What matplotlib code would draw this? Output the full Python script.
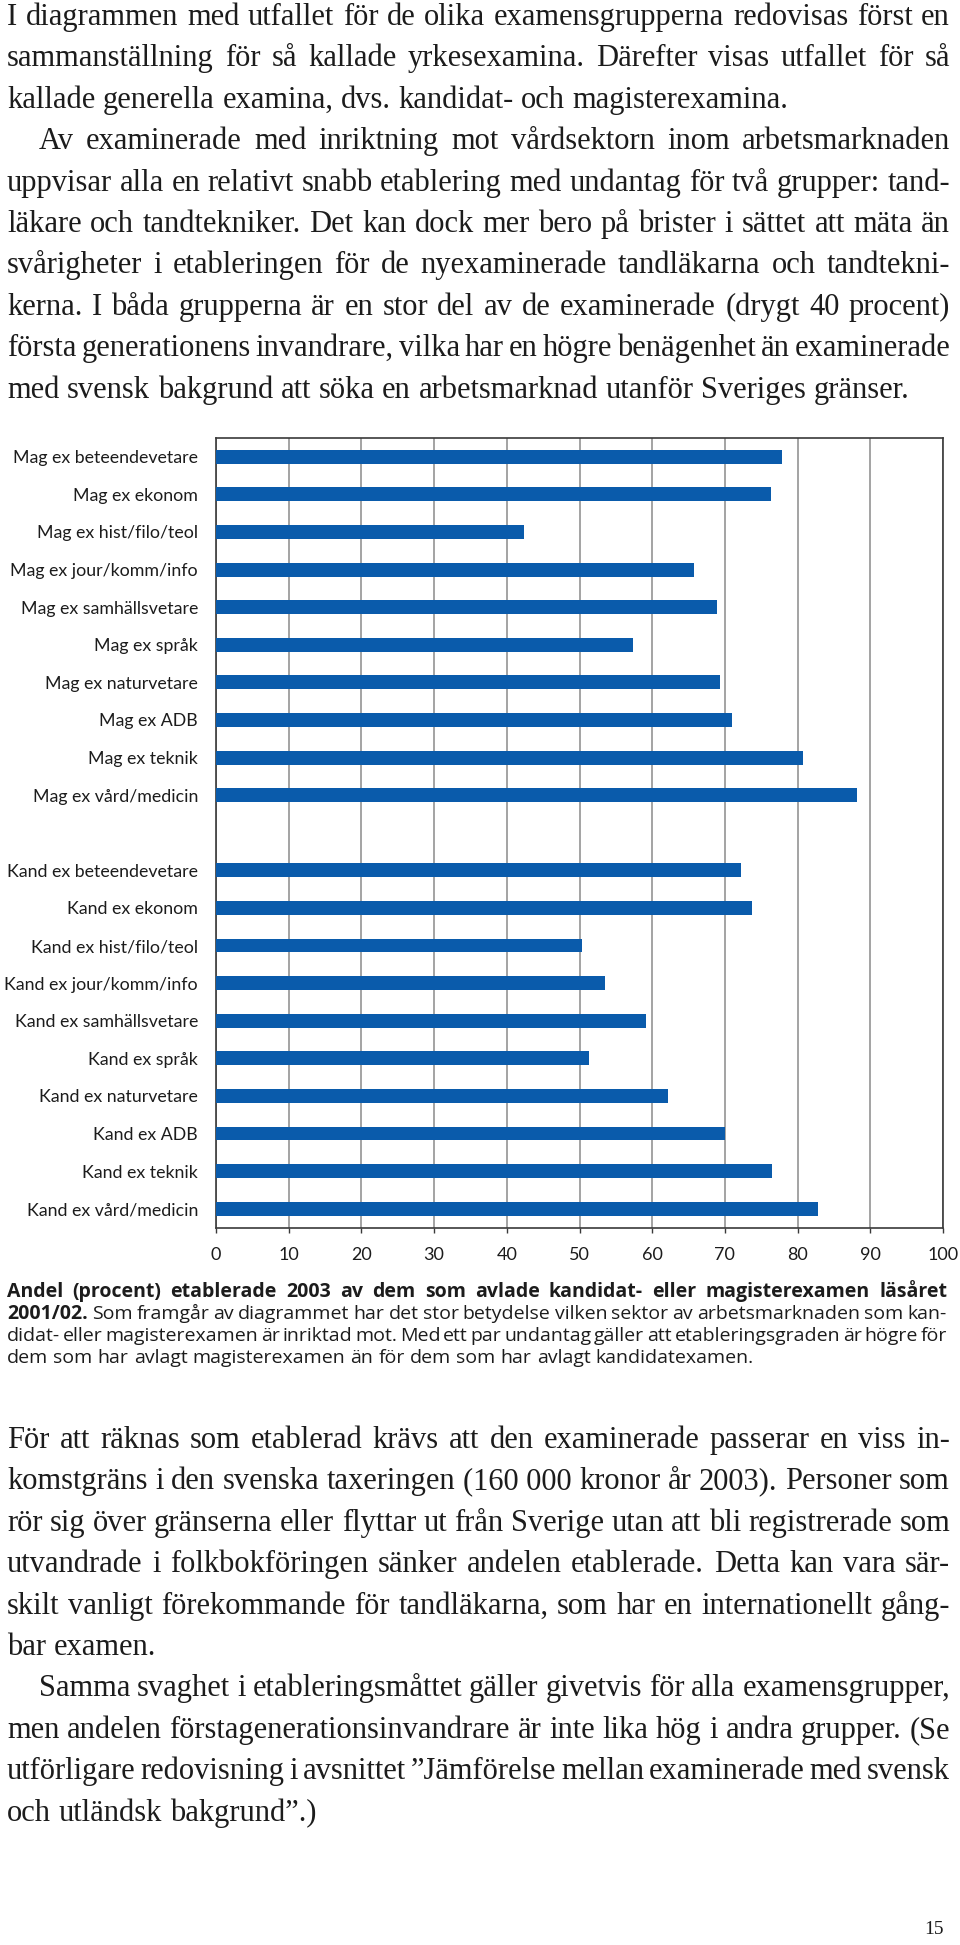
import matplotlib
matplotlib.use('Agg')
import matplotlib.pyplot as plt
import numpy as np

# Chart data (andel etablerade, procent)
mag_labels = ['Mag ex beteendevetare', 'Mag ex ekonom', 'Mag ex hist/filo/teol',
              'Mag ex jour/komm/info', 'Mag ex samhällsvetare', 'Mag ex språk',
              'Mag ex naturvetare', 'Mag ex ADB', 'Mag ex teknik', 'Mag ex vård/medicin']
mag_values = [77.9, 76.3, 42.3, 65.7, 68.9, 57.3, 69.3, 71.0, 80.8, 88.2]

kand_labels = ['Kand ex beteendevetare', 'Kand ex ekonom', 'Kand ex hist/filo/teol',
               'Kand ex jour/komm/info', 'Kand ex samhällsvetare', 'Kand ex språk',
               'Kand ex naturvetare', 'Kand ex ADB', 'Kand ex teknik', 'Kand ex vård/medicin']
kand_values = [72.2, 73.7, 50.4, 53.5, 59.1, 51.3, 62.2, 70.0, 76.5, 82.8]

x_ticks = [0, 10, 20, 30, 40, 50, 60, 70, 80, 90, 100]

# Page text
top_lines = [
    "I diagrammen med utfallet för de olika examensgrupperna redovisas först en",
    "sammanställning för så kallade yrkesexamina. Därefter visas utfallet för så",
    "kallade generella examina, dvs. kandidat- och magisterexamina.",
    "Av examinerade med inriktning mot vårdsektorn inom arbetsmarknaden",
    "uppvisar alla en relativt snabb etablering med undantag för två grupper: tand-",
    "läkare och tandtekniker. Det kan dock mer bero på brister i sättet att mäta än",
    "svårigheter i etableringen för de nyexaminerade tandläkarna och tandtekni-",
    "kerna. I båda grupperna är en stor del av de examinerade (drygt 40 procent)",
    "första generationens invandrare, vilka har en högre benägenhet än examinerade",
    "med svensk bakgrund att söka en arbetsmarknad utanför Sveriges gränser.",
]
top_indent = [0, 0, 0, 1, 0, 0, 0, 0, 0, 0]
top_justify = [1, 1, 0, 1, 1, 1, 1, 1, 1, 0]

bottom_lines = [
    "För att räknas som etablerad krävs att den examinerade passerar en viss in-",
    "komstgräns i den svenska taxeringen (160\u00a0000 kronor år 2003). Personer som",
    "rör sig över gränserna eller flyttar ut från Sverige utan att bli registrerade som",
    "utvandrade i folkbokföringen sänker andelen etablerade. Detta kan vara sär-",
    "skilt vanligt förekommande för tandläkarna, som har en internationellt gång-",
    "bar examen.",
    "Samma svaghet i etableringsmåttet gäller givetvis för alla examensgrupper,",
    "men andelen förstagenerationsinvandrare är inte lika hög i andra grupper. (Se",
    "utförligare redovisning i avsnittet ”Jämförelse mellan examinerade med svensk",
    "och utländsk bakgrund”.)",
]
bottom_indent = [0, 0, 0, 0, 0, 0, 1, 0, 0, 0]
bottom_justify = [1, 1, 1, 1, 1, 0, 1, 1, 1, 0]

caption_lines = [
    [("Andel (procent) etablerade 2003 av dem som avlade kandidat- eller magisterexamen läsåret", 'bold')],
    [("2001/02.", 'bold'),
     ("Som framgår av diagrammet har det stor betydelse vilken sektor av arbetsmarknaden som kan-", 'normal')],
    [("didat- eller magisterexamen är inriktad mot. Med ett par undantag gäller att etableringsgraden är högre för", 'normal')],
    [("dem som har avlagt magisterexamen än för dem som har avlagt kandidatexamen.", 'normal')],
]
caption_justify = [1, 1, 1, 0]

W, H = 960, 1945
fig = plt.figure(figsize=(W / 100, H / 100), dpi=100)
fig.patch.set_facecolor('white')
renderer = fig.canvas.get_renderer()

SERIF = 'Liberation Serif'
SANS = 'Open Sans'
INK = '#1c1c1c'


def text_width(s, size, family, weight='normal'):
    t = fig.text(0, 0, s, fontsize=size, family=family, fontweight=weight)
    w = t.get_window_extent(renderer).width
    t.remove()
    return w


def space_width(size, family):
    return text_width('a a', size, family) - text_width('aa', size, family)


def split_words(line, weight='normal'):
    return [(w, weight) for w in line.split(' ')]


def fit_size(block, size, family, x0s, x1, justify, min_gap=0.8):
    # shrink the block's size until every justified line fits with a decent gap
    for _ in range(3):
        sp = space_width(size, family)
        ratio = 1.0
        for words, x0, j in zip(block, x0s, justify):
            if not j:
                continue
            total = sum(text_width(w, size, family, wt) for w, wt in words)
            need = total + (len(words) - 1) * sp * min_gap
            ratio = min(ratio, (x1 - x0) / need)
        if ratio >= 0.999:
            break
        size *= ratio * 0.998
    return size


def place_line(words, x0, x1, y, size, family, justify):
    # y is the baseline in pixels from the top of the page
    items = []
    for w, wt in words:
        t = fig.text(x0 / W, 1 - y / H, w, fontsize=size, family=family,
                     fontweight=wt, ha='left', va='baseline', color=INK)
        items.append((t, t.get_window_extent(renderer).width))
    total = sum(wd for _, wd in items)
    if justify and len(items) > 1:
        gap = (x1 - x0 - total) / (len(items) - 1)
    else:
        gap = space_width(size, family)
    x = x0
    for t, wd in items:
        t.set_x(x / W)
        x += wd + gap


L, R = 7, 950
LEAD = 41.4
INDENT = 32

top_words = [split_words(s) for s in top_lines]
top_x0 = [L + INDENT * k for k in top_indent]
bottom_words = [split_words(s) for s in bottom_lines]
bottom_x0 = [L + INDENT * k for k in bottom_indent]

body_size = fit_size(top_words + bottom_words, 22, SERIF, top_x0 + bottom_x0, R,
                     top_justify + bottom_justify, min_gap=0.55)

for i, words in enumerate(top_words):
    place_line(words, top_x0[i], R, 25 + LEAD * i, body_size, SERIF, top_justify[i])

for i, words in enumerate(bottom_words):
    place_line(words, bottom_x0[i], R, 1448 + LEAD * i, body_size, SERIF, bottom_justify[i])

cap_words = []
for parts in caption_lines:
    ws = []
    for txt, wt in parts:
        ws += split_words(txt, wt)
    cap_words.append(ws)
cap_size = fit_size(cap_words, 14, SANS, [L] * 4, R - 3, caption_justify, min_gap=0.55)
for i, words in enumerate(cap_words):
    place_line(words, L, R - 3, 1297 + 22 * i, cap_size, SANS, caption_justify[i])

fig.text(944 / W, 1 - 1934 / H, '15', fontsize=14, family=SERIF,
         ha='right', va='baseline', color=INK)

# Bar chart
ax = fig.add_axes([216 / W, 1 - 1227.5 / H, 727 / W, 789.5 / H])
labels = mag_labels + [''] + kand_labels
values = mag_values + [np.nan] + kand_values
pos = np.arange(len(labels))
ax.barh(pos, values, height=0.37, color='#0a5bab', zorder=3)
ax.set_ylim(len(labels) - 0.5, -0.5)
ax.set_xlim(0, 100)
ax.set_yticks(pos)
ax.set_yticklabels(labels, family='Lato', fontsize=12.8, color=INK)
ax.set_xticks(x_ticks)
ax.set_xticklabels([str(v) for v in x_ticks], family='Lato', fontsize=13, color=INK)
ax.tick_params(axis='y', length=0, pad=13)
ax.tick_params(axis='x', length=3.6, width=1, color='#3a3a3a', pad=10.5)
ax.xaxis.grid(True, color='#8a8a8a', linewidth=1.1, zorder=0)
ax.set_axisbelow(True)
for s in ax.spines.values():
    s.set_color('#3a3a3a')
    s.set_linewidth(1.2)

fig.savefig('out.png', dpi=100, facecolor='white')
